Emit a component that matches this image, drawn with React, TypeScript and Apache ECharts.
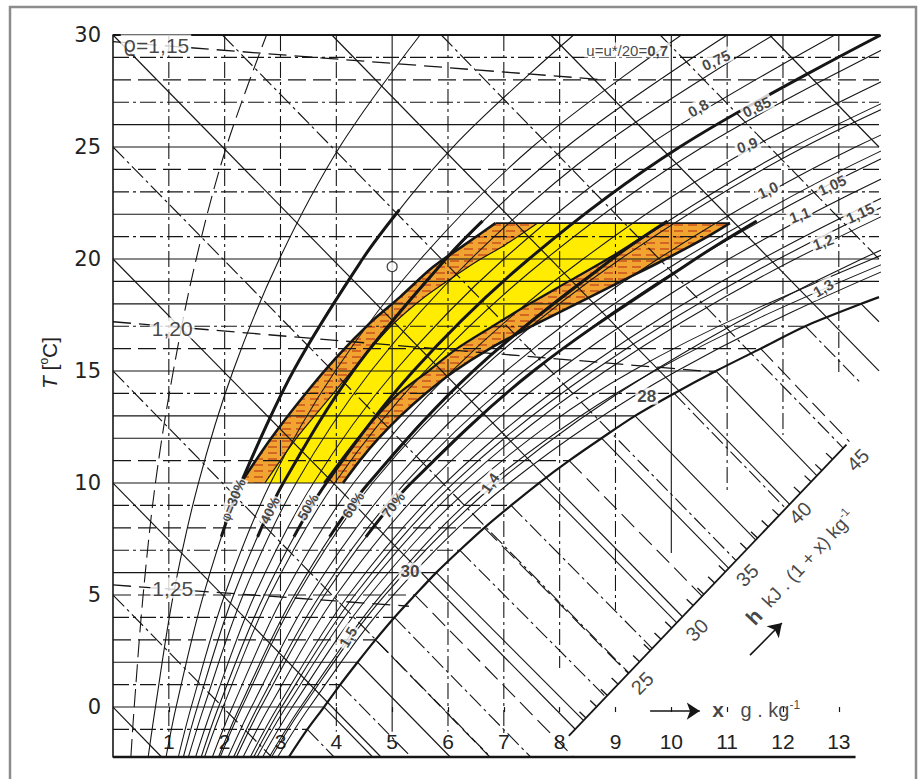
import React, { useEffect, useRef } from "react";
import * as echarts from "echarts";

const INK = "#161616";
const SANS = "Liberation Sans";
const WIDE = "DejaVu Sans";

// axis extents: T in °C, x in g of water per kg of dry air
const T_MIN = -2.23;
const T_MAX = 30;
const X_MAX = 13.72;

const tempTicks = [0, 5, 10, 15, 20, 25, 30];
const moistureTicks = [1, 2, 3, 4, 5, 6, 7, 8, 9, 10, 11, 12, 13];

// saturation line (φ = 100 %), [x, T]
const saturation = [
  [3.15, -2.23], [3.48, -1], [3.78, 0], [4.07, 1], [4.38, 2], [4.7, 3], [5.04, 4],
  [5.41, 5], [5.79, 6], [6.21, 7], [6.65, 8], [7.13, 9], [7.63, 10], [8.17, 11],
  [8.75, 12], [9.35, 13], [10.05, 14], [10.8, 15], [11.6, 16], [12.4, 17], [13.4, 18],
  [13.72, 18.3],
];

// isotherms every 1 °C; s = solid, d = dashed, dd = dash-dot
const isotherms = [-1, 0, 1, 2, 3, 4, 5, 6, 7, 8, 9, 10, 11, 12, 13, 14, 15, 16, 17, 18, 19, 20, 21, 22, 23, 24, 25, 26, 27, 28, 29, 30];
const isothermStyle = ["dd", "s", "dd", "s", "d", "dd", "d", "s", "dd", "d", "dd", "s", "d", "s", "s", "dd", "s", "d", "dd", "s", "s", "s", "dd", "s", "dd", "d", "s", "s", "dd", "d", "dd", "s"];

// fog isotherms below the saturation line: the point where each one stops
const fogTemps = [-1, 0, 1, 2, 3, 4, 5, 6, 7, 8, 9, 10, 11, 12, 13, 14, 15, 16, 17, 18];
const fogEnds = [
  [3.96, -2.23], [4.65, -2.23], [5.34, -2.23], [6.04, -2.23], [6.75, -2.23], [7.48, -2.23],
  [8.25, -2.23], [8.43, -0.61], [8.83, 0.44], [9.23, 1.5], [9.66, 2.61], [10.1, 3.76],
  [10.55, 4.95], [11.03, 6.19], [11.51, 7.46], [12.05, 8.86], [12.61, 10.32], [13.19, 11.85],
  [13.4, 14.45], [13.72, 17.2],
];

// vertical lines of constant x and the temperature where each one stops
const moistureLineEnds = [-1.1, -1.1, -1.1, -1.1, -1.1, -1.1, -1.16, 1.74, 4.33, 6.88, 9.55, 12.14, 14.96];
const moistureLineStyle = ["dd", "dd", "dd", "dd", "s", "dd", "dd", "dd", "dd", "s", "dd", "dd", "dd"];

// lines of constant enthalpy h (kJ/kg)
const enthalpyValues = [0, 5, 10, 15, 20, 25, 30, 35, 40, 45, 50, 55, 60];
const enthalpyFrom = [
  [0, 0], [0, 5], [0, 10], [0, 15], [0, 20], [0, 25], [0, 30],
  [1.96, 30], [3.92, 30], [5.88, 30], [7.84, 30], [9.8, 30], [11.76, 30],
];
const enthalpyTo = [
  [0.87, -2.23], [2.84, -2.23], [4.8, -2.23], [6.76, -2.23], [8.28, -0.99], [9.24, 1.52],
  [10.2, 4.03], [11.16, 6.54], [12.12, 9.05], [13.08, 11.56], [13.72, 15.01], [13.72, 20.0],
  [13.72, 25.0],
];

// enthalpy scale in the fog region
const hScaleAt25 = [9.24, 1.52];
const hScaleAt45 = [13.08, 11.56];
const hScaleExtent = [19.4, 45.3];
const hScaleTicks = [20, 21, 22, 23, 24, 25, 26, 27, 28, 29, 30, 31, 32, 33, 34, 35, 36, 37, 38, 39, 40, 41, 42, 43, 44, 45];

// density lines ϱ = 1,15 / 1,20 / 1,25 kg/m³
const densityLines = [
  [[0, 29.7], [8.8, 28.0]],
  [[0, 17.2], [10.8, 14.95]],
  [[0, 5.45], [5.3, 4.5]],
];

// relative humidity φ and u = u*/20 curves: x at each of curveTemps
const curveTemps = [T_MIN, 0, 5, 10, 15, 20, 25, 30];
const phiPercent = [10, 20, 30, 40, 50, 60, 70, 80, 90];
const phiX = [
  [0.32, 0.38, 0.54, 0.76, 1.08, 1.49, 2.03, 2.75],
  [0.63, 0.76, 1.08, 1.53, 2.15, 2.98, 4.06, 5.5],
  [0.95, 1.13, 1.62, 2.29, 3.23, 4.47, 6.09, 8.25],
  [1.26, 1.51, 2.16, 3.05, 4.3, 5.96, 8.12, 11.0],
  [1.58, 1.89, 2.71, 3.82, 5.38, 7.45, 10.15, 13.75],
  [1.89, 2.27, 3.25, 4.58, 6.45, 8.94, 12.18, 16.5],
  [2.21, 2.65, 3.79, 5.34, 7.53, 10.43, 14.21, 19.25],
  [2.52, 3.02, 4.33, 6.1, 8.6, 11.92, 16.24, 22.0],
  [2.84, 3.4, 4.87, 6.87, 9.68, 13.41, 18.27, 24.75],
];
const uLevels = ["0,7", "0,75", "0,8", "0,85", "0,9", "0,95", "1,0", "1,05", "1,1", "1,15", "1,2", "1,3", "1,4", "1,5"];
const uX = [
  [1.17, 1.4, 2.0, 2.82, 3.98, 5.51, 7.51, 10.18],
  [1.35, 1.63, 2.33, 3.28, 4.62, 6.41, 8.73, 11.83],
  [1.48, 1.78, 2.54, 3.59, 5.05, 7.0, 9.54, 12.93],
  [1.64, 1.97, 2.81, 3.97, 5.59, 7.75, 10.56, 14.3],
  [1.78, 2.14, 3.06, 4.31, 6.07, 8.42, 11.47, 15.54],
  [1.92, 2.31, 3.3, 4.65, 6.56, 9.09, 12.38, 16.78],
  [2.06, 2.48, 3.54, 5.0, 7.04, 9.76, 13.3, 18.01],
  [2.16, 2.59, 3.71, 5.23, 7.36, 10.21, 13.91, 18.84],
  [2.33, 2.8, 4.0, 5.65, 7.96, 11.03, 15.02, 20.35],
  [2.46, 2.95, 4.22, 5.95, 8.39, 11.62, 15.83, 21.45],
  [2.58, 3.1, 4.44, 6.26, 8.82, 12.22, 16.65, 22.55],
  [2.68, 3.21, 4.6, 6.49, 9.3, 13.6, 18.9, 25.6],
  [2.8, 3.36, 4.8, 6.75, 9.7, 14.0, 19.3, 26.0],
  [2.95, 3.52, 5.02, 7.1, 10.1, 14.3, 19.6, 26.5],
];

// heavy parts of the φ = 30 … 70 % curves
const phiBold = [
  [[1.94, 7.6], [2.29, 10], [3.23, 15], [4.47, 20], [5.13, 22.2]],
  [[2.59, 7.6], [3.05, 10], [4.3, 15], [5.96, 20], [6.62, 21.7]],
  [[3.24, 7.6], [3.82, 10], [5.38, 15], [7.45, 20], [10.15, 25], [13.75, 30]],
  [[3.88, 7.6], [4.58, 10], [6.45, 15], [8.94, 20], [9.93, 21.7]],
  [[4.53, 7.6], [5.34, 10], [7.53, 15], [10.43, 20], [11.53, 21.7]],
];

// shaded zone: outer edges and the inner edges of the two hatched strips
const zoneLeftOuter = [
  [2.29, 10], [2.81, 11.92], [3.4, 13.84], [4.01, 15.63], [4.6, 17.14], [5.14, 18.3],
  [5.73, 19.64], [6.34, 20.71], [6.85, 21.6],
];
const zoneLeftInner = [
  [2.72, 10], [3.26, 11.92], [3.85, 13.71], [4.44, 15.49], [5.0, 17.05], [5.58, 18.3],
  [6.15, 19.29], [6.5, 19.87], [7.02, 20.63], [7.6, 21.6],
];
const zoneRightInner = [
  [3.78, 10], [4.08, 11], [4.39, 12], [4.73, 13], [5.12, 14], [5.65, 15], [6.16, 16],
  [6.8, 17], [7.46, 18], [8.16, 19], [8.86, 20], [9.5, 21], [9.9, 21.6],
];
const zoneRightOuter = [
  [4.12, 10], [4.42, 11], [4.76, 12], [5.15, 13], [5.6, 14], [6.12, 15], [6.75, 16],
  [7.5, 17], [8.3, 18], [9.1, 19], [9.9, 20], [10.65, 21], [11.05, 21.6],
];

// reference state
const refPoint = [5.0, 19.66];

// label placements
const uLabelText = ["0,75", "0,8", "0,85", "0,9", "1,0", "1,05", "1,1", "1,15", "1,2", "1,3", "1,4", "1,5"];
const uLabelAt = [
  [10.8, 28.88], [10.48, 26.74], [11.53, 26.79], [11.36, 25.09], [11.73, 23.08], [12.88, 23.3],
  [12.3, 21.96], [13.38, 22.05], [12.72, 20.76], [12.72, 18.71], [6.75, 10.0], [4.21, 3.13],
];
const uLabelTilt = [25, 30, 25, 20, 25, 25, 20, 25, 20, 30, 55, 60];
const phiLabelAt = [[2.15, 9.24], [2.81, 8.79], [3.49, 8.93], [4.3, 9.02], [5.02, 9.02]];
const phiLabelTilt = [68, 64, 60, 56, 52];
const hLabelAt = [[9.48, 1.07], [10.46, 3.44], [11.36, 5.89], [12.31, 8.66], [13.34, 11.03]];

const DASH: Record<string, any> = { s: "solid", d: [18, 7], dd: [16, 4, 3, 4] };

function path(data: number[][], width: number, type: any = "solid", z = 2, smooth: any = false, clip = true) {
  return {
    type: "line",
    data,
    symbol: "none",
    silent: true,
    smooth,
    clip,
    z,
    lineStyle: { color: INK, width, type },
    emphasis: { disabled: true },
  };
}

function area(points: number[][], fill: any, z: number) {
  return {
    type: "custom",
    silent: true,
    z,
    data: [points[0]],
    renderItem: (_p: any, api: any) => ({
      type: "polygon",
      shape: { points: points.map((pt) => api.coord(pt)) },
      style: { fill, stroke: "none" },
    }),
  };
}

function hScalePoint(h: number) {
  const f = (h - 25) / 20;
  return [
    hScaleAt25[0] + (hScaleAt45[0] - hScaleAt25[0]) * f,
    hScaleAt25[1] + (hScaleAt45[1] - hScaleAt25[1]) * f,
  ];
}

function enthalpyScale() {
  return {
    type: "custom",
    silent: true,
    z: 4,
    data: [hScalePoint(25)],
    renderItem: (_p: any, api: any) => {
      const a = api.coord(hScalePoint(hScaleExtent[0]));
      const b = api.coord(hScalePoint(hScaleExtent[1]));
      const len = Math.hypot(b[0] - a[0], b[1] - a[1]);
      const ux = (b[0] - a[0]) / len;
      const uy = (b[1] - a[1]) / len;
      const children: any[] = [
        { type: "line", shape: { x1: a[0], y1: a[1], x2: b[0], y2: b[1] }, style: { stroke: INK, lineWidth: 1.8 } },
      ];
      hScaleTicks.forEach((h) => {
        if (h % 5 === 0) return;
        const p = api.coord(hScalePoint(h));
        children.push({
          type: "line",
          shape: { x1: p[0], y1: p[1], x2: p[0] + uy * 9, y2: p[1] - ux * 9 },
          style: { stroke: INK, lineWidth: 1.3 },
        });
      });
      return { type: "group", children };
    },
  };
}

const RICH = {
  bold: { fontWeight: "bold", fontFamily: SANS },
  sup: { fontSize: 12, fontFamily: SANS, padding: [0, 0, 10, 0] },
  norm: { fontWeight: "normal", fontFamily: SANS },
};

function texts(items: { text: string; at: number[]; rot?: number }[], label: any) {
  return {
    type: "scatter",
    silent: true,
    z: 8,
    symbolSize: 1,
    itemStyle: { color: "rgba(0,0,0,0)" },
    clip: false,
    data: items.map((it) => ({ value: it.at, label: { formatter: it.text, rotate: it.rot || 0 } })),
    label: {
      show: true,
      position: "inside",
      align: "center",
      verticalAlign: "middle",
      color: INK,
      fontFamily: SANS,
      rich: RICH,
      ...label,
    },
    labelLayout: { hideOverlap: false },
    emphasis: { disabled: true },
  };
}

// orange strip fill with short red-brown horizontal strokes
function hatchPattern() {
  const c = document.createElement("canvas");
  c.width = 14;
  c.height = 6;
  const g = c.getContext("2d")!;
  g.fillStyle = "#F2A431";
  g.fillRect(0, 0, 14, 6);
  g.strokeStyle = "#C2461B";
  g.lineWidth = 1.3;
  g.beginPath();
  g.moveTo(2, 3);
  g.lineTo(11, 3);
  g.stroke();
  return { image: c, repeat: "repeat", imageWidth: 14, imageHeight: 6 };
}

function buildOption() {
  const satAt = (t: number) => {
    const p = saturation.find((s) => s[1] === t);
    return p ? p[0] : X_MAX;
  };
  const series: any[] = [];

  // shaded zone and hatched strips
  const hatch = hatchPattern();
  series.push(area([...zoneLeftOuter, ...zoneRightOuter.slice().reverse()], "#FFEC00", 1));
  series.push(area([...zoneLeftOuter, ...zoneLeftInner.slice().reverse()], hatch, 1));
  series.push(area([...zoneRightInner, ...zoneRightOuter.slice().reverse()], hatch, 1));

  // isotherms, horizontal up to saturation, then into the fog region
  isotherms.forEach((t, i) => {
    series.push(path([[0, t], [satAt(t), t]], t === 30 ? 1.8 : 1.15, DASH[isothermStyle[i]]));
  });
  fogTemps.forEach((t, i) => {
    const k = isotherms.indexOf(t);
    series.push(path([[satAt(t), t], fogEnds[i]], 1.1, DASH[isothermStyle[k]]));
  });

  // constant moisture content
  moistureTicks.forEach((x, i) => {
    series.push(path([[x, T_MAX], [x, moistureLineEnds[i]]], 1.1, DASH[moistureLineStyle[i]]));
  });

  // constant enthalpy
  enthalpyValues.forEach((h, i) => {
    series.push(path([enthalpyFrom[i], enthalpyTo[i]], 1.15, h % 10 === 0 ? "solid" : DASH.dd));
  });
  series.push(enthalpyScale());

  // density
  densityLines.forEach((d) => series.push(path(d, 1.3, [18, 8])));

  // φ and u curves
  phiX.forEach((xs, i) => {
    series.push(path(xs.map((x, j) => [x, curveTemps[j]]), 1.1, phiPercent[i] === 10 ? DASH.d : "solid", 2, 0.35));
  });
  uX.forEach((xs) => {
    series.push(path(xs.map((x, j) => [x, curveTemps[j]]), 1.05, "solid", 2, 0.35));
  });
  phiBold.forEach((seg) => series.push(path(seg, 3, "solid", 3, 0.35)));

  // saturation line
  series.push(path(saturation, 2.2, "solid", 3, 0.3));

  // edges of the shaded zone
  series.push(path(zoneLeftOuter, 2.6, "solid", 3, 0.3));
  series.push(path(zoneLeftInner, 1.2, "solid", 3, 0.3));
  series.push(path(zoneRightInner, 2.2, "solid", 3, 0.3));
  series.push(path(zoneRightOuter, 2.6, "solid", 3, 0.3));
  series.push(path([zoneLeftOuter[zoneLeftOuter.length - 1], zoneRightOuter[zoneRightOuter.length - 1]], 1.6));

  // base line of the x axis
  series.push(path([[0, T_MIN], [13.3, T_MIN]], 2.6, "solid", 4, false, false));

  // reference state
  series.push({
    type: "scatter",
    silent: true,
    z: 7,
    symbol: "circle",
    symbolSize: 10,
    data: [refPoint],
    itemStyle: { color: "#fff", borderColor: INK, borderWidth: 1.3 },
  });

  // arrows for the x and h scales
  series.push({
    type: "lines",
    coordinateSystem: "cartesian2d",
    silent: true,
    z: 6,
    symbol: ["none", "arrow"],
    symbolSize: 13,
    lineStyle: { color: INK, width: 1.6, opacity: 1 },
    data: [
      { coords: [[9.62, -0.18], [10.51, -0.18]] },
      { coords: [[11.41, 2.32], [11.98, 3.75]] },
    ],
  });

  // curve labels
  series.push(
    texts(
      uLabelText.map((t, i) => ({ text: t, at: uLabelAt[i], rot: uLabelTilt[i] })),
      { fontSize: 15, fontWeight: "bold", backgroundColor: "#fff", padding: [0, 2] }
    )
  );
  series.push(
    texts([{ text: "{norm|u=u*/20=}{bold|" + uLevels[0] + "}", at: [9.21, 29.33] }], {
      fontSize: 15,
      backgroundColor: "#fff",
      padding: [0, 2],
    })
  );
  series.push(
    texts(
      [
        { text: "{phi|φ}=" + phiPercent[2] + "%", at: phiLabelAt[0], rot: phiLabelTilt[0] },
        ...[3, 4, 5, 6].map((k, i) => ({ text: phiPercent[k] + "%", at: phiLabelAt[i + 1], rot: phiLabelTilt[i + 1] })),
      ],
      {
        fontSize: 14,
        fontWeight: "bold",
        backgroundColor: "#fff",
        padding: [0, 1],
        rich: { ...RICH, phi: { fontSize: 13, fontWeight: "normal", fontFamily: WIDE } },
      }
    )
  );
  series.push(
    texts(
      [
        { text: "28", at: [9.56, 13.88] },
        { text: "30", at: [5.32, 6.07] },
      ],
      { fontSize: 17, fontWeight: "bold", backgroundColor: "#fff", padding: [0, 2] }
    )
  );
  series.push(
    texts(
      [
        { text: "{rho|ϱ}=1,15", at: [0.77, 29.55] },
        { text: "1,20", at: [1.06, 16.92] },
        { text: "1,25", at: [1.07, 5.31] },
      ],
      {
        fontSize: 21,
        backgroundColor: "#fff",
        padding: [0, 2],
        rich: { ...RICH, rho: { fontSize: 21, fontFamily: WIDE } },
      }
    )
  );
  series.push(
    texts(
      [25, 30, 35, 40, 45].map((h, i) => ({ text: String(h), at: hLabelAt[i], rot: 45 })),
      { fontSize: 20 }
    )
  );
  series.push(
    texts([{ text: "{bold|x}   g . kg{sup|-1}", at: [11.52, -0.13] }], {
      fontSize: 20,
      rich: { ...RICH, bold: { fontWeight: "bold", fontFamily: SANS, fontSize: 21 } },
    })
  );
  series.push(
    texts([{ text: "{bold|h}  kJ . (1 + x) kg{sup|-1}", at: [12.31, 6.25], rot: 47 }], {
      fontSize: 19,
      rich: { ...RICH, bold: { fontWeight: "bold", fontFamily: SANS, fontSize: 21 } },
    })
  );

  return {
    animation: false,
    backgroundColor: "#ffffff",
    grid: { left: 113, top: 35, width: 766, height: 722, containLabel: false, outerBoundsMode: "none" },
    xAxis: {
      type: "value",
      min: 0,
      max: X_MAX,
      axisLine: { show: false },
      splitLine: { show: false },
      axisTick: { show: true, customValues: moistureTicks, length: 5, lineStyle: { color: INK, width: 1.2 } },
      axisLabel: { inside: true, customValues: moistureTicks, margin: 5, fontSize: 21, fontFamily: SANS, color: "#222" },
    },
    yAxis: {
      type: "value",
      min: T_MIN,
      max: T_MAX,
      axisLine: { show: true, lineStyle: { color: INK, width: 1.6 } },
      splitLine: { show: false },
      axisTick: { show: false },
      axisLabel: { customValues: tempTicks, margin: 12, fontSize: 21, fontFamily: WIDE, color: "#222" },
    },
    graphic: [
      {
        type: "rect",
        silent: true,
        z: 100,
        shape: { x: 10, y: 7, width: 906, height: 800 },
        style: { fill: "none", stroke: "#8c8c8c", lineWidth: 2.5 },
      },
      {
        type: "text",
        silent: true,
        x: 49,
        y: 363,
        rotation: Math.PI / 2,
        style: {
          text: "{it|T} [{sup|o}C]",
          fontSize: 21,
          fontFamily: SANS,
          fill: "#222",
          align: "center",
          verticalAlign: "middle",
          rich: {
            it: { fontStyle: "italic", fontSize: 21, fontFamily: SANS },
            sup: { fontSize: 12, fontFamily: SANS, padding: [0, 0, 10, 0] },
          },
        },
      },
    ],
    series,
  };
}

export default function App() {
  const ref = useRef<HTMLDivElement>(null);
  useEffect(() => {
    const chart = echarts.init(ref.current!, null, { renderer: "svg" });
    chart.setOption(buildOption() as any);
    return () => chart.dispose();
  }, []);
  return (
    <div
      ref={ref}
      style={{ position: "fixed", left: 0, top: 0, width: 922, height: 779, background: "#fff" }}
    />
  );
}
